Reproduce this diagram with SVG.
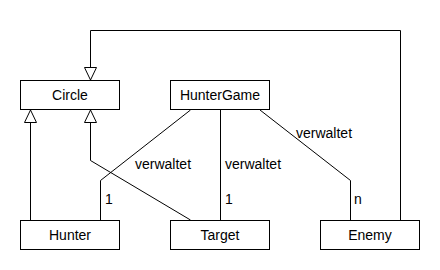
<svg xmlns="http://www.w3.org/2000/svg" width="440" height="270" viewBox="0 0 440 270">
<style>
.box{fill:#fff;stroke:#000;stroke-width:1}
.t{font-family:"Liberation Sans",Arial,sans-serif;font-size:14px;fill:#000}
.c{text-anchor:middle}
.ln{fill:none;stroke:#000;stroke-width:1}
</style>
<defs>
<marker id="inh" markerWidth="14" markerHeight="14" refX="13" refY="6.5" orient="auto" markerUnits="userSpaceOnUse" viewBox="0 0 14 13">
<path d="M0.5,0.5 L13,6.5 L0.5,12.5 Z" fill="#fff" stroke="#000" stroke-width="1"/>
</marker>
</defs>
<rect width="440" height="270" fill="#fff"/>
<g id="connectors">
<polyline class="ln" points="400.5,220 400.5,30.5 90.5,30.5 90.5,80" marker-end="url(#inh)"/>
<polyline class="ln" points="30.5,220 30.5,110" marker-end="url(#inh)"/>
<polyline class="ln" points="190.5,220 90.5,160.5 90.5,110" marker-end="url(#inh)"/>
<polyline class="ln" points="100.5,220 100.5,180.5 190.5,110"/>
<polyline class="ln" points="220.5,110 220.5,220"/>
<polyline class="ln" points="260,110 350.5,180.5 350.5,220"/>
<text class="t" x="135" y="169">verwaltet</text>
<text class="t" x="105" y="204">1</text>
<text class="t" x="225" y="169">verwaltet</text>
<text class="t" x="225" y="204">1</text>
<text class="t" x="296" y="138">verwaltet</text>
<text class="t" x="354" y="204">n</text>
</g>
<g id="Circle"><rect class="box" x="20.5" y="80.5" width="99" height="29"/><text class="t c" x="70" y="100">Circle</text></g>
<g id="HunterGame"><rect class="box" x="170.5" y="80.5" width="99" height="29"/><text class="t c" x="220" y="100">HunterGame</text></g>
<g id="Hunter"><rect class="box" x="20.5" y="220.5" width="99" height="29"/><text class="t c" x="70" y="240">Hunter</text></g>
<g id="Target"><rect class="box" x="170.5" y="220.5" width="99" height="29"/><text class="t c" x="220" y="240">Target</text></g>
<g id="Enemy"><rect class="box" x="320.5" y="220.5" width="99" height="29"/><text class="t c" x="370" y="240">Enemy</text></g>
</svg>
